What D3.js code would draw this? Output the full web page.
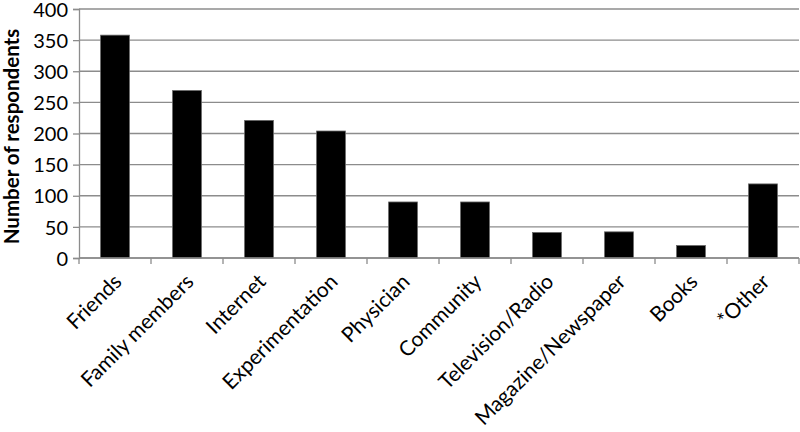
<!DOCTYPE html>
<html>
<head>
<meta charset="utf-8">
<script src="https://cdn.jsdelivr.net/npm/d3@7"></script>
<style>
  body { margin: 0; background: #fff; }
  text { font-family: Lato, "Open Sans", sans-serif; fill: #000; }
</style>
</head>
<body>
<div id="chart"></div>
<script>
const categories = ['Friends', 'Family members', 'Internet', 'Experimentation', 'Physician',
    'Community', 'Television/Radio', 'Magazine/Newspaper', 'Books', '*Other'];
const respondents = [358, 269, 221, 204, 90, 90, 41, 42, 20, 119];
const yTicks = [0, 50, 100, 150, 200, 250, 300, 350, 400];

const width = 800;
const height = 432;
const plot_left = 79;
const plot_right = 799;
const plot_top = 9;
const plot_bottom = 258;

const svg = d3.select('#chart')
    .append('svg')
    .attr('width', width)
    .attr('height', height);

// scales
const x_scale = d3.scaleBand()
    .domain(categories)
    .range([plot_left, plot_right])
    .paddingInner(0.6)
    .paddingOuter(0.3);

const y_scale = d3.scaleLinear()
    .domain([0, 400])
    .range([plot_bottom, plot_top]);

// gridlines
svg.append('g')
    .selectAll('line')
    .data(yTicks)
    .join('line')
    .attr('x1', plot_left)
    .attr('x2', plot_right)
    .attr('y1', d => y_scale(d))
    .attr('y2', d => y_scale(d))
    .attr('stroke', '#8c8c8c')
    .attr('stroke-width', 1.3);

// bars
svg.append('g')
    .selectAll('rect')
    .data(categories)
    .join('rect')
    .attr('x', d => x_scale(d))
    .attr('width', x_scale.bandwidth())
    .attr('y', (d, i) => y_scale(respondents[i]))
    .attr('height', (d, i) => plot_bottom - y_scale(respondents[i]))
    .attr('fill', '#000')
    .attr('stroke', '#666')
    .attr('stroke-width', 0.8);

// y axis
const y_axis = d3.axisLeft(y_scale)
    .tickValues(yTicks)
    .tickSize(6)
    .tickPadding(5);

const yg = svg.append('g')
    .attr('transform', `translate(${plot_left},0)`)
    .call(y_axis);
yg.select('.domain').attr('stroke', '#8c8c8c').attr('stroke-width', 1.3);
yg.selectAll('.tick line').attr('stroke', '#8c8c8c').attr('stroke-width', 1.3);
yg.selectAll('.tick text')
    .attr('font-size', 20)
    .attr('dy', '0.36em')
    .style('font-family', 'Lato, sans-serif');

// x axis: ticks at category boundaries
const boundaries = d3.range(categories.length + 1).map(i => plot_left + i * (plot_right - plot_left) / categories.length);
svg.append('line')
    .attr('x1', plot_left).attr('x2', plot_right)
    .attr('y1', plot_bottom).attr('y2', plot_bottom)
    .attr('stroke', '#8c8c8c').attr('stroke-width', 1.3);
svg.append('g')
    .selectAll('line')
    .data(boundaries)
    .join('line')
    .attr('x1', d => d).attr('x2', d => d)
    .attr('y1', plot_bottom).attr('y2', plot_bottom + 6)
    .attr('stroke', '#8c8c8c').attr('stroke-width', 1.3);

// category labels
svg.append('g')
    .selectAll('text')
    .data(categories)
    .join('text')
    .attr('transform', d => `translate(${x_scale(d) + x_scale.bandwidth() / 2 + 8},${plot_bottom + 25}) rotate(-45)`)
    .attr('text-anchor', 'end')
    .attr('font-size', 21)
    .text(d => d);

// y axis title
svg.append('text')
    .attr('transform', `translate(19,${(plot_top + plot_bottom) / 2 + 3}) rotate(-90)`)
    .attr('text-anchor', 'middle')
    .attr('font-size', 20.5)
    .attr('font-weight', 'bold')
    .text('Number of respondents');
</script>
</body>
</html>
